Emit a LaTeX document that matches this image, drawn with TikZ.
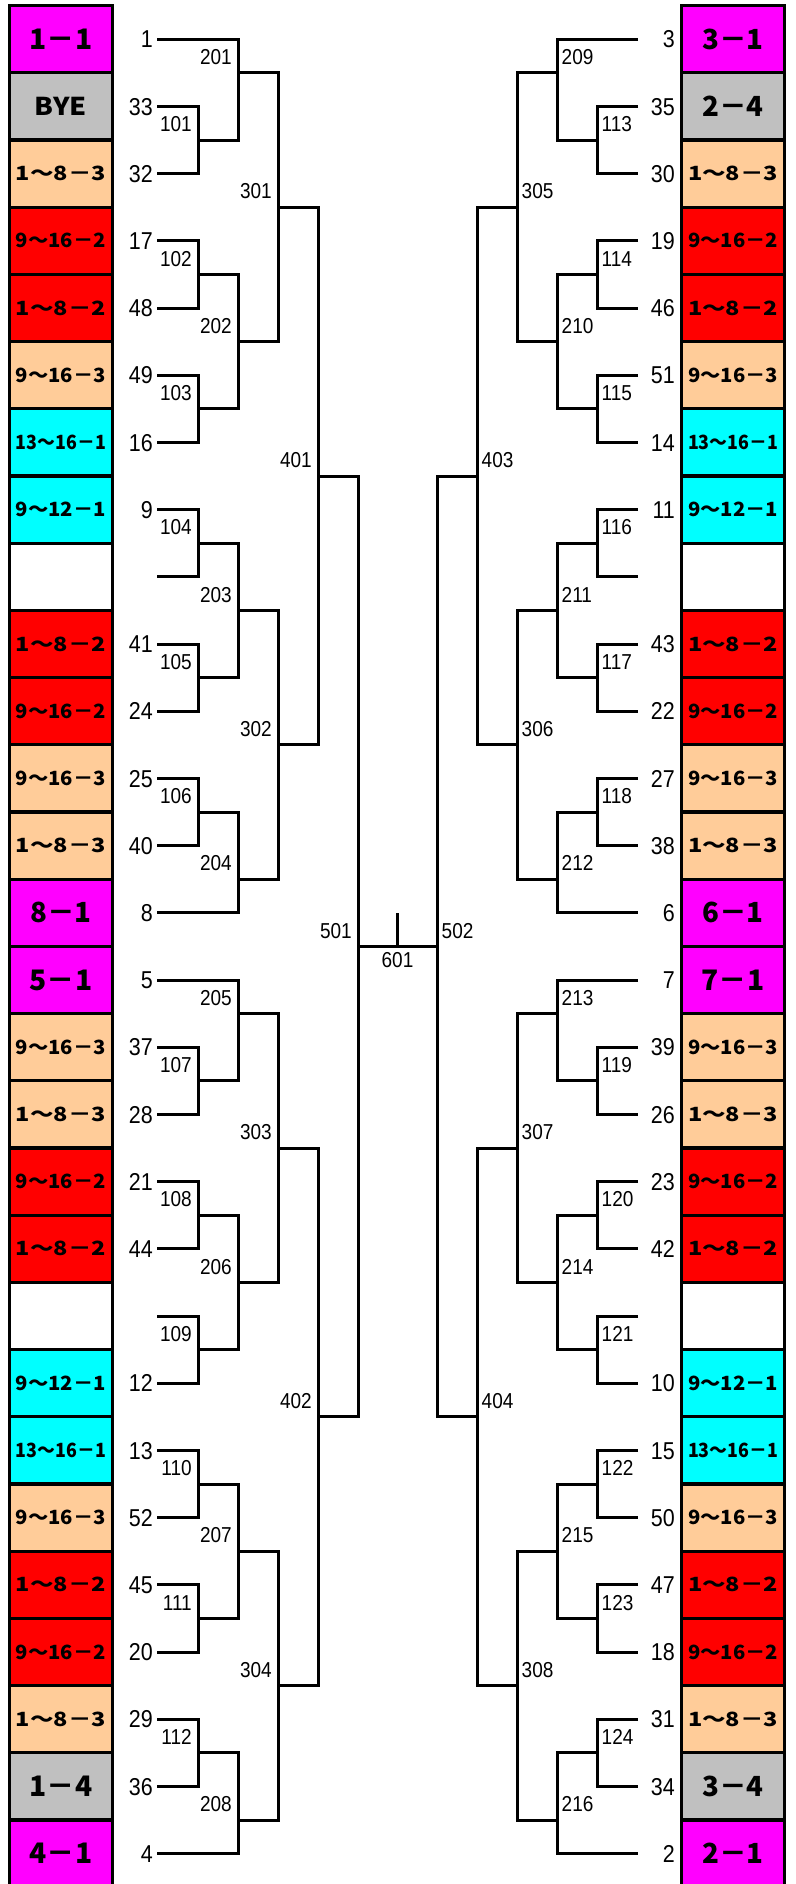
\documentclass[tikz,border=0pt]{standalone}
\usepackage{fontspec}
\usepackage{graphicx}
\newfontfamily\numfont{Liberation Sans}[FakeStretch=0.88]
\newfontfamily\jpfont{Noto Sans CJK JP}
\definecolor{cMag}{HTML}{FF00FF}
\definecolor{cGry}{HTML}{C0C0C0}
\definecolor{cPch}{HTML}{FFCC99}
\definecolor{cRed}{HTML}{FF0000}
\definecolor{cCyn}{HTML}{00FFFF}
\newcommand\LA[1]{\resizebox{!}{20.5pt}{\jpfont\bfseries #1}}
\newcommand\LB[1]{\resizebox{90pt}{14.5pt}{\jpfont\bfseries #1}}
\newcommand\LC[1]{\resizebox{52pt}{18.3pt}{\jpfont\bfseries #1}}
\tikzset{
  entry/.style={draw=black, line width=3.3pt, minimum width=103.5pt, minimum height=67.2pt, inner sep=0pt, text=black},
  seednum/.style={font=\numfont\fontsize{24.4}{26}\selectfont, inner sep=0pt},
  matchnum/.style={font=\numfont\fontsize{21.6}{24}\selectfont, inner sep=0pt},
  bracket/.style={draw=black, line width=3pt},
}
\begin{document}
\begin{tikzpicture}[x=1pt,y=-1pt]
\useasboundingbox (0,0) rectangle (795,1884);
% ---------- left column ----------
\foreach \rw/\sd/\cl/\tx in {
 1/1/cMag/{\LA{1－1}}, 2/33/cGry/{\LC{BYE}}, 3/32/cPch/{\LB{1～8－3}}, 4/17/cRed/{\LB{9～16－2}},
 5/48/cRed/{\LB{1～8－2}}, 6/49/cPch/{\LB{9～16－3}}, 7/16/cCyn/{\LB{13～16－1}}, 8/9/cCyn/{\LB{9～12－1}},
 9/{}/white/{}, 10/41/cRed/{\LB{1～8－2}}, 11/24/cRed/{\LB{9～16－2}}, 12/25/cPch/{\LB{9～16－3}},
 13/40/cPch/{\LB{1～8－3}}, 14/8/cMag/{\LA{8－1}}, 15/5/cMag/{\LA{5－1}}, 16/37/cPch/{\LB{9～16－3}},
 17/28/cPch/{\LB{1～8－3}}, 18/21/cRed/{\LB{9～16－2}}, 19/44/cRed/{\LB{1～8－2}}, 20/{}/white/{},
 21/12/cCyn/{\LB{9～12－1}}, 22/13/cCyn/{\LB{13～16－1}}, 23/52/cPch/{\LB{9～16－3}}, 24/45/cRed/{\LB{1～8－2}},
 25/20/cRed/{\LB{9～16－2}}, 26/29/cPch/{\LB{1～8－3}}, 27/36/cGry/{\LA{1－4}}, 28/4/cMag/{\LA{4－1}}}
{
  \pgfmathsetmacro\yy{5.6+67.2*(\rw-0.5)}
  \node[entry, fill=\cl] (BL\rw) at (60.95,\yy) {\tx};
  \coordinate (L\rw) at (157,\yy);
  \node[seednum, anchor=base east] (NL\rw) at (153,{\yy+8.75}) {\sd};
}
% ---------- right column ----------
\foreach \rw/\sd/\cl/\tx in {
 1/3/cMag/{\LA{3－1}}, 2/35/cGry/{\LA{2－4}}, 3/30/cPch/{\LB{1～8－3}}, 4/19/cRed/{\LB{9～16－2}},
 5/46/cRed/{\LB{1～8－2}}, 6/51/cPch/{\LB{9～16－3}}, 7/14/cCyn/{\LB{13～16－1}}, 8/11/cCyn/{\LB{9～12－1}},
 9/{}/white/{}, 10/43/cRed/{\LB{1～8－2}}, 11/22/cRed/{\LB{9～16－2}}, 12/27/cPch/{\LB{9～16－3}},
 13/38/cPch/{\LB{1～8－3}}, 14/6/cMag/{\LA{6－1}}, 15/7/cMag/{\LA{7－1}}, 16/39/cPch/{\LB{9～16－3}},
 17/26/cPch/{\LB{1～8－3}}, 18/23/cRed/{\LB{9～16－2}}, 19/42/cRed/{\LB{1～8－2}}, 20/{}/white/{},
 21/10/cCyn/{\LB{9～12－1}}, 22/15/cCyn/{\LB{13～16－1}}, 23/50/cPch/{\LB{9～16－3}}, 24/47/cRed/{\LB{1～8－2}},
 25/18/cRed/{\LB{9～16－2}}, 26/31/cPch/{\LB{1～8－3}}, 27/34/cGry/{\LA{3－4}}, 28/2/cMag/{\LA{2－1}}}
{
  \pgfmathsetmacro\yy{5.6+67.2*(\rw-0.5)}
  \node[entry, fill=\cl, minimum width=102.6pt] (BR\rw) at (733,\yy) {\tx};
  \coordinate (R\rw) at (638,\yy);
  \node[seednum, anchor=base east] (NR\rw) at (675,{\yy+8.75}) {\sd};
}
% ---------- left bracket ----------
\foreach \M/\A/\B/\X/\p in {
 101/L2/L3/198/4, 102/L4/L5/198/8, 103/L6/L7/198/12, 104/L8/L9/198/16,
 105/L10/L11/198/20, 106/L12/L13/198/24, 107/L16/L17/198/32, 108/L18/L19/198/36,
 109/L20/L21/198/40, 110/L22/L23/198/44, 111/L24/L25/198/48, 112/L26/L27/198/52,
 201/L1/m101/238/2, 202/m102/m103/238/10, 203/m104/m105/238/18, 204/m106/L14/238/26,
 205/L15/m107/238/30, 206/m108/m109/238/38, 207/m110/m111/238/46, 208/m112/L28/238/54,
 301/m201/m202/278/6, 302/m203/m204/278/22, 303/m205/m206/278/34, 304/m207/m208/278/50,
 401/m301/m302/318/14, 402/m303/m304/318/42,
 501/m401/m402/358/28}
{
  \coordinate (m\M) at (\X,{5.6+33.6*\p});
  \draw[bracket] (\A) -- (\A -| m\M) -- (\B -| m\M) -- (\B);
  \node[matchnum, anchor=base east] (t\M) at ([xshift=-6pt,yshift=8.25pt]m\M) {\M};
}
% ---------- right bracket ----------
\foreach \M/\A/\B/\X/\p in {
 113/R2/R3/597/4, 114/R4/R5/597/8, 115/R6/R7/597/12, 116/R8/R9/597/16,
 117/R10/R11/597/20, 118/R12/R13/597/24, 119/R16/R17/597/32, 120/R18/R19/597/36,
 121/R20/R21/597/40, 122/R22/R23/597/44, 123/R24/R25/597/48, 124/R26/R27/597/52,
 209/R1/m113/557/2, 210/m114/m115/557/10, 211/m116/m117/557/18, 212/m118/R14/557/26,
 213/R15/m119/557/30, 214/m120/m121/557/38, 215/m122/m123/557/46, 216/m124/R28/557/54,
 305/m209/m210/517/6, 306/m211/m212/517/22, 307/m213/m214/517/34, 308/m215/m216/517/50,
 403/m305/m306/477/14, 404/m307/m308/477/42,
 502/m403/m404/437/28}
{
  \coordinate (m\M) at (\X,{5.6+33.6*\p});
  \draw[bracket] (\A) -- (\A -| m\M) -- (\B -| m\M) -- (\B);
  \node[matchnum, anchor=base west] (t\M) at ([xshift=4.5pt,yshift=8.25pt]m\M) {\M};
}
% ---------- final ----------
\coordinate (m601) at (397.5,{5.6+33.6*28});
\draw[bracket] (m501) -- (m502);
\draw[bracket] (m601) -- ++(0,-33.4);
\node[matchnum, anchor=north] (t601) at ([yshift=-5.6pt]m601) {601};
\end{tikzpicture}
\end{document}
